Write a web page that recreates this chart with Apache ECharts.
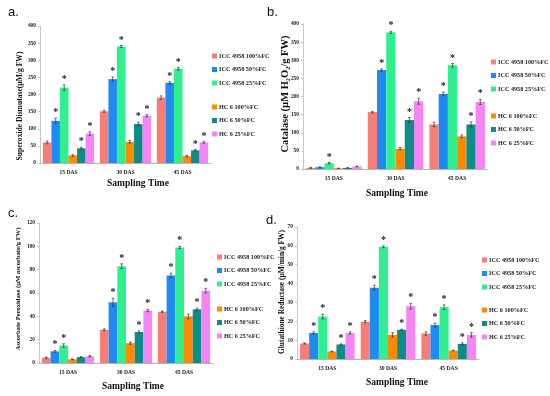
<!DOCTYPE html>
<html>
<head>
<meta charset="utf-8">
<script src="https://cdn.jsdelivr.net/npm/echarts@6/dist/echarts.min.js"></script>
<style>html,body{margin:0;padding:0;background:#fff}#c{width:550px;height:396px}</style>
</head>
<body>
<div id="c"></div>
<script>
const categories = ['15 DAS', '30 DAS', '45 DAS'];
const seriesNames = ['ICC 4958 100%FC', 'ICC 4958 50%FC', 'ICC 4958 25%FC', 'HC 6 100%FC', 'HC 6 50%FC', 'HC 6 25%FC'];
const colors = ['#F77E76', '#1F8BF2', '#2EF08E', '#FF8A00', '#0E8C88', '#F584F5'];

// a. Superoxide Dismutase
const sodValues = [[60, 151, 191], [123, 245, 234], [220, 340, 275], [22, 62, 20], [43, 114, 37], [86, 138, 60]];
const sodErrors = [[4, 3, 5], [8, 6, 3], [8, 3, 4], [2, 4, 2], [3, 5, 2], [5, 3, 2]];
const sodSig = [[0, 0, 0], [1, 1, 1], [1, 1, 1], [0, 0, 0], [1, 1, 1], [1, 1, 1]];
const sodTicks = { min: 0, max: 400, interval: 50 };

// b. Catalase
const catValues = [[3, 157, 123], [5, 273, 207], [16, 377, 286], [2, 56, 90], [3, 135, 123], [7, 187, 185]];
const catErrors = [[1, 2, 6], [1, 3, 5], [2, 3, 5], [0.5, 3, 4], [0.5, 7, 7], [1, 8, 7]];
const catSig = [[0, 0, 0], [0, 1, 1], [1, 1, 1], [0, 0, 0], [0, 1, 1], [0, 1, 1]];
const catTicks = { min: 0, max: 400, interval: 50 };

// c. Ascorbate Peroxidase
const apxValues = [[4.5, 28.5, 44], [10, 52, 75], [15, 83, 99], [3.2, 17, 40], [5, 26.5, 46], [5.8, 45, 62]];
const apxErrors = [[0.5, 0.8, 0.5], [0.8, 3.5, 2], [1.5, 2, 1], [0.3, 1, 2], [0.5, 1, 1], [0.4, 1, 2]];
const apxSig = [[0, 0, 0], [1, 1, 1], [1, 1, 1], [0, 0, 0], [0, 1, 1], [0, 1, 1]];
const apxTicks = { min: 0, max: 120, interval: 20 };

// d. Glutathione Reductase
const grValues = [[8.2, 19.8, 13.5], [13.8, 37.8, 18], [22.5, 59.5, 27.5], [4, 12.8, 4.5], [7.7, 15.5, 8], [13.8, 28, 12.8]];
const grErrors = [[0.3, 0.6, 0.9], [0.6, 1.3, 1], [1.2, 0.5, 1.2], [0.2, 1.2, 0.2], [0.3, 0.3, 0.6], [0.6, 1.5, 1.2]];
const grSig = [[0, 0, 0], [1, 1, 1], [1, 1, 1], [0, 0, 0], [1, 1, 1], [1, 1, 1]];
const grTicks = { min: 0, max: 70, interval: 10 };

const panels = [
  { tag: 'a.', values: sodValues, errors: sodErrors, sig: sodSig, ticks: sodTicks,
    yTitle: 'Superoxide Dismutase(µM/g FW)',
    grid: { left: 40, top: 26, width: 171, height: 137 },
    tagPos: [8, 6], yTitlePos: [20, 106], yTitleSize: 7.6, xTitlePos: [138, 184],
    leg: [212, 53, 104] },
  { tag: 'b.', values: catValues, errors: catErrors, sig: catSig, ticks: catTicks,
    yTitle: 'Catalase (µM H₂O₂/g FW)',
    grid: { left: 303, top: 24, width: 185, height: 145 },
    tagPos: [267, 6], yTitlePos: [285, 94], yTitleSize: 10.5, xTitlePos: [397, 194],
    leg: [491, 59, 113] },
  { tag: 'c.', values: apxValues, errors: apxErrors, sig: apxSig, ticks: apxTicks,
    yTitle: 'Ascorbate Peroxidase (µM ascorbate/g FW)',
    grid: { left: 39, top: 223, width: 174, height: 140 },
    tagPos: [8, 207], yTitlePos: [18, 289], yTitleSize: 6.6, xTitlePos: [133, 387],
    leg: [217, 254, 306] },
  { tag: 'd.', values: grValues, errors: grErrors, sig: grSig, ticks: grTicks,
    yTitle: 'Glutathione Reductase (µM/min/g FW)',
    grid: { left: 297, top: 227, width: 182, height: 132 },
    tagPos: [266, 214], yTitlePos: [282, 292], yTitleSize: 7.4, xTitlePos: [397, 383],
    leg: [482, 257, 307] }
];

const serif = '"Liberation Serif", "Times New Roman", serif';
const grids = [], xAxes = [], yAxes = [], series = [], legends = [], graphics = [];

panels.forEach((p, pi) => {
  grids.push(Object.assign({ containLabel: false }, p.grid));
  xAxes.push({
    type: 'category', gridIndex: pi, data: categories,
    axisLine: { lineStyle: { color: '#b5b5b5', width: 1 } },
    axisTick: { show: false },
    axisLabel: { fontFamily: serif, fontWeight: 'bold', fontSize: 5.6, color: '#222', margin: 7 }
  });
  yAxes.push({
    type: 'value', gridIndex: pi, min: p.ticks.min, max: p.ticks.max, interval: p.ticks.interval,
    axisLine: { show: true, lineStyle: { color: '#c8c8c8', width: 1 } },
    axisTick: { show: true, length: 2, lineStyle: { color: '#c8c8c8' } },
    splitLine: { show: false },
    axisLabel: { fontFamily: serif, fontWeight: 'bold', fontSize: 5.4, color: '#222', margin: 4 }
  });
  seriesNames.forEach((name, si) => {
    series.push({
      type: 'bar', name: name, xAxisIndex: pi, yAxisIndex: pi,
      data: p.values[si], barGap: '0%', barCategoryGap: '10%',
      itemStyle: { color: colors[si] }, silent: true, animation: false
    });
  });
  const errData = [];
  seriesNames.forEach((name, si) => {
    categories.forEach((c, ci) => {
      errData.push([ci, p.values[si][ci], p.errors[si][ci], p.sig[si][ci], si]);
    });
  });
  series.push({
    type: 'custom', xAxisIndex: pi, yAxisIndex: pi, data: errData, z: 10, silent: true, animation: false,
    encode: { x: 0, y: 1 },
    renderItem: function (params, api) {
      const ci = api.value(0), v = api.value(1), e = api.value(2), s = api.value(3), si = api.value(4);
      const bandW = api.size([1, 0])[0];
      const barW = bandW * 0.9 / 6;
      const c = api.coord([ci, v]);
      const x = c[0] + (si - 2.5) * barW;
      const yHi = api.coord([ci, v + e])[1];
      const yLo = api.coord([ci, v - e])[1];
      const cap = 1.3;
      const style = { stroke: '#333', lineWidth: 0.7 };
      const children = [
        { type: 'line', shape: { x1: x, y1: yLo, x2: x, y2: yHi }, style: style },
        { type: 'line', shape: { x1: x - cap, y1: yHi, x2: x + cap, y2: yHi }, style: style },
        { type: 'line', shape: { x1: x - cap, y1: yLo, x2: x + cap, y2: yLo }, style: style }
      ];
      if (s) {
        children.push({ type: 'text', style: { text: '*', x: x, y: yHi - 0.5, align: 'center', verticalAlign: 'bottom',
          font: 'bold 10px ' + serif, fill: '#222' } });
      }
      return { type: 'group', children: children };
    }
  });
  [[0, 3, p.leg[1]], [3, 6, p.leg[2]]].forEach(g => {
    legends.push({
      data: seriesNames.slice(g[0], g[1]), orient: 'vertical', left: p.leg[0], top: g[2],
      itemWidth: 5, itemHeight: 5, itemGap: 7.5, icon: 'rect', selectedMode: false, padding: 0,
      textStyle: { fontFamily: serif, fontWeight: 'bold', fontSize: 6.2, color: '#222', padding: [0, 0, 0, -3] }
    });
  });
  graphics.push({ type: 'text', left: p.tagPos[0], top: p.tagPos[1],
    style: { text: p.tag, font: '13px "Liberation Sans", Arial, sans-serif', fill: '#111' } });
  graphics.push({ type: 'text', x: p.yTitlePos[0], y: p.yTitlePos[1], rotation: Math.PI / 2,
    style: { text: p.yTitle, align: 'center', verticalAlign: 'middle', font: 'bold ' + p.yTitleSize + 'px ' + serif, fill: '#111' } });
  graphics.push({ type: 'text', x: p.xTitlePos[0], y: p.xTitlePos[1],
    style: { text: 'Sampling Time', align: 'center', verticalAlign: 'middle', font: 'bold 9.5px ' + serif, fill: '#111' } });
});

const chart = echarts.init(document.getElementById('c'), null, { renderer: 'canvas' });
chart.setOption({
  animation: false,
  backgroundColor: '#fff',
  grid: grids, xAxis: xAxes, yAxis: yAxes, series: series, legend: legends, graphic: graphics
});
</script>
</body>
</html>
